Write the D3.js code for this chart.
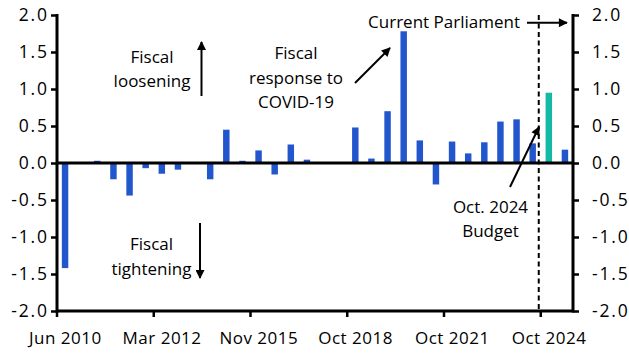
<!DOCTYPE html>
<html><head><meta charset="utf-8">
<script src="https://cdn.jsdelivr.net/npm/d3@7"></script>
<style>
html,body{margin:0;padding:0;background:#fff;}
svg text{font-family:"Open Sans",sans-serif;fill:#000;}
</style></head>
<body><svg id="c" width="629" height="355"></svg>
<script>
const categories = ["Jun 2010","Oct 2010","Nov 2010","Mar 2011","Nov 2011","Dec 2011","Mar 2012","Dec 2012","Mar 2013","Dec 2013","Mar 2014","Mar 2015","Nov 2015","Mar 2016","Nov 2016","Mar 2017","Nov 2017","Mar 2018","Oct 2018","Mar 2019","Sep 2019","Mar 2020","Nov 2020","Mar 2021","Oct 2021","Mar 2022","Nov 2022","Mar 2023","Nov 2023","Mar 2024","Oct 2024","Mar 2025"];
const values = [-1.42,0,0.03,-0.22,-0.44,-0.07,-0.145,-0.09,0,-0.22,0.45,0.03,0.17,-0.155,0.25,0.045,0,0,0.48,0.06,0.70,1.78,0.305,-0.29,0.29,0.13,0.28,0.56,0.59,0.265,0.95,0.18];
const highlight = ["Oct 2024"];
const xTickLabels = ["Jun 2010","Mar 2012","Nov 2015","Oct 2018","Oct 2021","Oct 2024"];
const yTicks = [-2,-1.5,-1,-0.5,0,0.5,1,1.5,2];
const parliamentStart = "Oct 2024";

const svg = d3.select("#c");
const L = 57, R = 573, T = 15, B = 311;
const x = d3.scaleBand().domain(categories).range([L, R]).paddingInner(0.6).paddingOuter(0.3);
const y = d3.scaleLinear().domain([-2, 2]).range([B, T]);
const step = x.step();
const boundary = c => x(c) - step * 0.3;
const fmt = v => d3.format(".1f")(v).replace("\u2212", "-");
const FS = 17;
const YFS = 17.5, LS = 1.8;

// bars
svg.append("g").selectAll("rect").data(categories).join("rect")
  .attr("x", d => x(d))
  .attr("width", x.bandwidth())
  .attr("y", (d, i) => y(Math.max(0, values[i])))
  .attr("height", (d, i) => Math.abs(y(values[i]) - y(0)))
  .attr("fill", d => highlight.includes(d) ? "#14b8a6" : "#2156cd");

// axes
const yl = svg.append("g").attr("transform", `translate(${L},0)`)
  .call(d3.axisLeft(y).tickValues(yTicks).tickFormat(fmt).tickSize(6).tickPadding(4));
const yr = svg.append("g").attr("transform", `translate(${R},0)`)
  .call(d3.axisRight(y).tickValues(yTicks).tickFormat(fmt).tickSize(6).tickPadding(13));
const xb = svg.append("g").attr("transform", `translate(0,${B})`)
  .call(d3.axisBottom(x).tickValues(xTickLabels).tickSize(0).tickPadding(21));
[yl, yr, xb].forEach(g => {
  g.select(".domain").remove();
  g.selectAll("line").attr("stroke", "#000").attr("stroke-width", 2.5);
  g.selectAll("text").attr("font-size", FS).attr("font-family", '"Open Sans",sans-serif');
});
yl.selectAll("text").attr("font-size", YFS).attr("letter-spacing", LS).attr("dx", LS);
yr.selectAll("text").attr("font-size", YFS).attr("letter-spacing", LS);
xb.selectAll("text").attr("letter-spacing", 0.5).attr("dx", 0.25);

// bottom ticks at band boundaries
svg.append("g").selectAll("line").data(xTickLabels).join("line")
  .attr("x1", d => boundary(d)).attr("x2", d => boundary(d))
  .attr("y1", B).attr("y2", B + 6).attr("stroke", "#000").attr("stroke-width", 2.5);

// axis lines
const ax = svg.append("g").attr("stroke", "#000").attr("stroke-width", 3);
ax.append("line").attr("x1", L).attr("x2", L).attr("y1", y(2) - 1).attr("y2", y(-2) + 1.5);
ax.append("line").attr("x1", R).attr("x2", R).attr("y1", y(2) - 1).attr("y2", y(-2) + 1.5);
ax.append("line").attr("x1", L).attr("x2", R).attr("y1", y(-2)).attr("y2", y(-2));
ax.append("line").attr("x1", L).attr("x2", R).attr("y1", y(0)).attr("y2", y(0));

// dashed parliament line
svg.append("line").attr("x1", boundary(parliamentStart) - 2).attr("x2", boundary(parliamentStart) - 2)
  .attr("y1", y(2)).attr("y2", y(-2)).attr("stroke", "#000").attr("stroke-width", 2)
  .attr("stroke-dasharray", "5,3.5");

// arrows
const defs = svg.append("defs");
defs.append("marker").attr("id", "ah").attr("viewBox", "0 0 10 10").attr("refX", 9).attr("refY", 5)
  .attr("markerWidth", 5).attr("markerHeight", 4.5).attr("markerUnits", "strokeWidth").attr("orient", "auto")
  .append("path").attr("d", "M0,0 L10,5 L0,10 z").attr("fill", "#000");
function arrow(x1, y1, x2, y2) {
  svg.append("line").attr("x1", x1).attr("y1", y1).attr("x2", x2).attr("y2", y2)
    .attr("stroke", "#000").attr("stroke-width", 2).attr("marker-end", "url(#ah)");
}
function label(lines, cx, baseline, anchor = "middle") {
  const t = svg.append("text").attr("font-size", FS).attr("text-anchor", anchor);
  lines.forEach((s, i) => t.append("tspan").attr("x", cx).attr("y", baseline + i * 24.5).text(s));
}
label(["Fiscal", "loosening"], 152, 62.5);
arrow(201.5, 96, 201.5, 42);
label(["Fiscal", "tightening"], 151.5, 250);
arrow(200, 223, 200, 278);
label(["Fiscal", "response to", "COVID-19"], 296, 59);
arrow(355, 83, 390, 48);
label(["Current Parliament"], 520, 28, "end");
arrow(527, 22.7, 567, 22.7);
label(["Oct. 2024", "Budget"], 490.5, 212.5);
arrow(510, 187, 539, 127);
</script></body></html>
